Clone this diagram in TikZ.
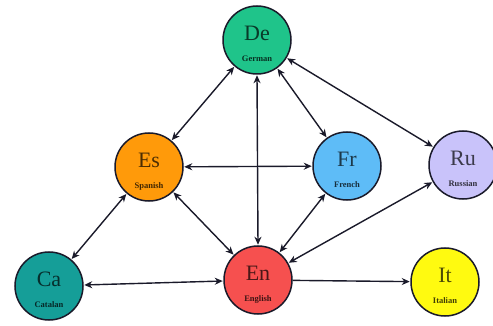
\documentclass[tikz,border=0pt]{standalone}
\usepackage{fontspec}
\setmainfont{Liberation Serif}
\usetikzlibrary{arrows.meta}
\definecolor{cDe}{HTML}{1FC48A}
\definecolor{cEs}{HTML}{FF9A0A}
\definecolor{cFr}{HTML}{5EBCF7}
\definecolor{cRu}{HTML}{C9C3FA}
\definecolor{cCa}{HTML}{159E98}
\definecolor{cEn}{HTML}{F6504F}
\definecolor{cIt}{HTML}{FFFA10}
\definecolor{rim}{HTML}{1A1A2A}
\tikzset{
  lang/.style={circle, draw=rim, line width=1.5pt, minimum size=68pt, inner sep=0pt},
  big/.style={font=\fontsize{22}{22}\selectfont, text=black, text opacity=0.7},
  small/.style={font=\fontsize{8.5}{8.5}\selectfont\bfseries, text=black, text opacity=0.75},
  link/.style={line width=1.4pt, draw=rim, {Stealth[length=8pt,width=7pt]}-{Stealth[length=8pt,width=7pt]}, shorten <=0.5pt, shorten >=0.5pt},
  onelink/.style={line width=1.4pt, draw=rim, -{Stealth[length=8pt,width=7pt]}, shorten >=0.5pt}
}
\newcommand{\langnode}[5]{%
  \node[lang, fill=#4] (#1) at (#2) {};
  \node[big] at ([yshift=7pt]#1.center) {#3};
  \node[small] at ([yshift=-19pt]#1.center) {#5};
}
\begin{document}
\begin{tikzpicture}[x=1pt,y=-1pt]
\useasboundingbox (0,0) rectangle (493,326);
\fill[white] (0,0) rectangle (493,326);
\langnode{De}{257,40}{De}{cDe}{German}
\langnode{Es}{149,167}{Es}{cEs}{Spanish}
\langnode{Fr}{347,166}{Fr}{cFr}{French}
\langnode{Ru}{463,165}{Ru}{cRu}{Russian}
\langnode{Ca}{49,286}{Ca}{cCa}{Catalan}
\langnode{En}{258,280}{En}{cEn}{English}
\langnode{It}{445,282}{It}{cIt}{Italian}
\draw[link] (De) -- (Es);
\draw[link] (De.south) -- (En.north);
\draw[link] (De) -- (Fr);
\draw[link] (De) -- (Ru);
\draw[link] (Es) -- (Fr);
\draw[link] (Es) -- (En);
\draw[link] (Es) -- (Ca);
\draw[link] (Fr) -- (En);
\draw[link] (Ru) -- (En);
\draw[link] (Ca) -- (En);
\draw[onelink] (En) -- (It);
\end{tikzpicture}
\end{document}
